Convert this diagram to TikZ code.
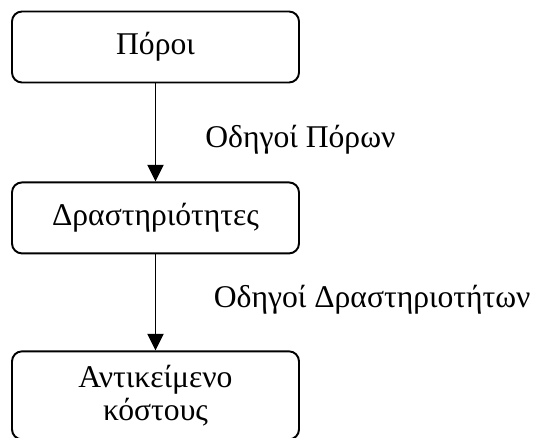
\documentclass[tikz,border=0pt]{standalone}
\usepackage{fontspec}
\setmainfont{Liberation Serif}
\usetikzlibrary{arrows.meta, positioning, petri}

\begin{document}
\begin{tikzpicture}[node distance = 2cm, auto]
\tikzstyle{stage}=[rectangle, rounded corners=2mm, draw=black, line width=1.1pt,
	minimum width=5.74cm, minimum height=1.42cm, align=center,
	font=\fontsize{18}{18.6}\selectfont]
\tikzstyle{driver}=[anchor=west, inner sep=0pt, font=\fontsize{18}{18.6}\selectfont]
\tikzstyle{flow}=[line width=1.1pt, -{Triangle[length=3.3mm, width=3.2mm]}]
%
\useasboundingbox (0,0) rectangle (11.1,-8.76);
\begin{scope}

\node [stage] (poroi) at (3.11,-0.94) {Πόροι};
\node [stage] (drast) [below=1.96cm of poroi] {Δραστηριότητες};
\node [stage, minimum height=1.76cm] (antik) [below=1.92cm of drast] {Αντικείμενο\\κόστους};

\draw [flow] (poroi) -- (drast);
\draw [flow] (drast) -- (antik);

\node [driver] (odpor) at (4.1,-2.8) {Οδηγοί Πόρων};
\node [driver] (oddra) at (4.27,-6.0) {Οδηγοί Δραστηριοτήτων};

\end{scope}
%
\end{tikzpicture}
\end{document}
